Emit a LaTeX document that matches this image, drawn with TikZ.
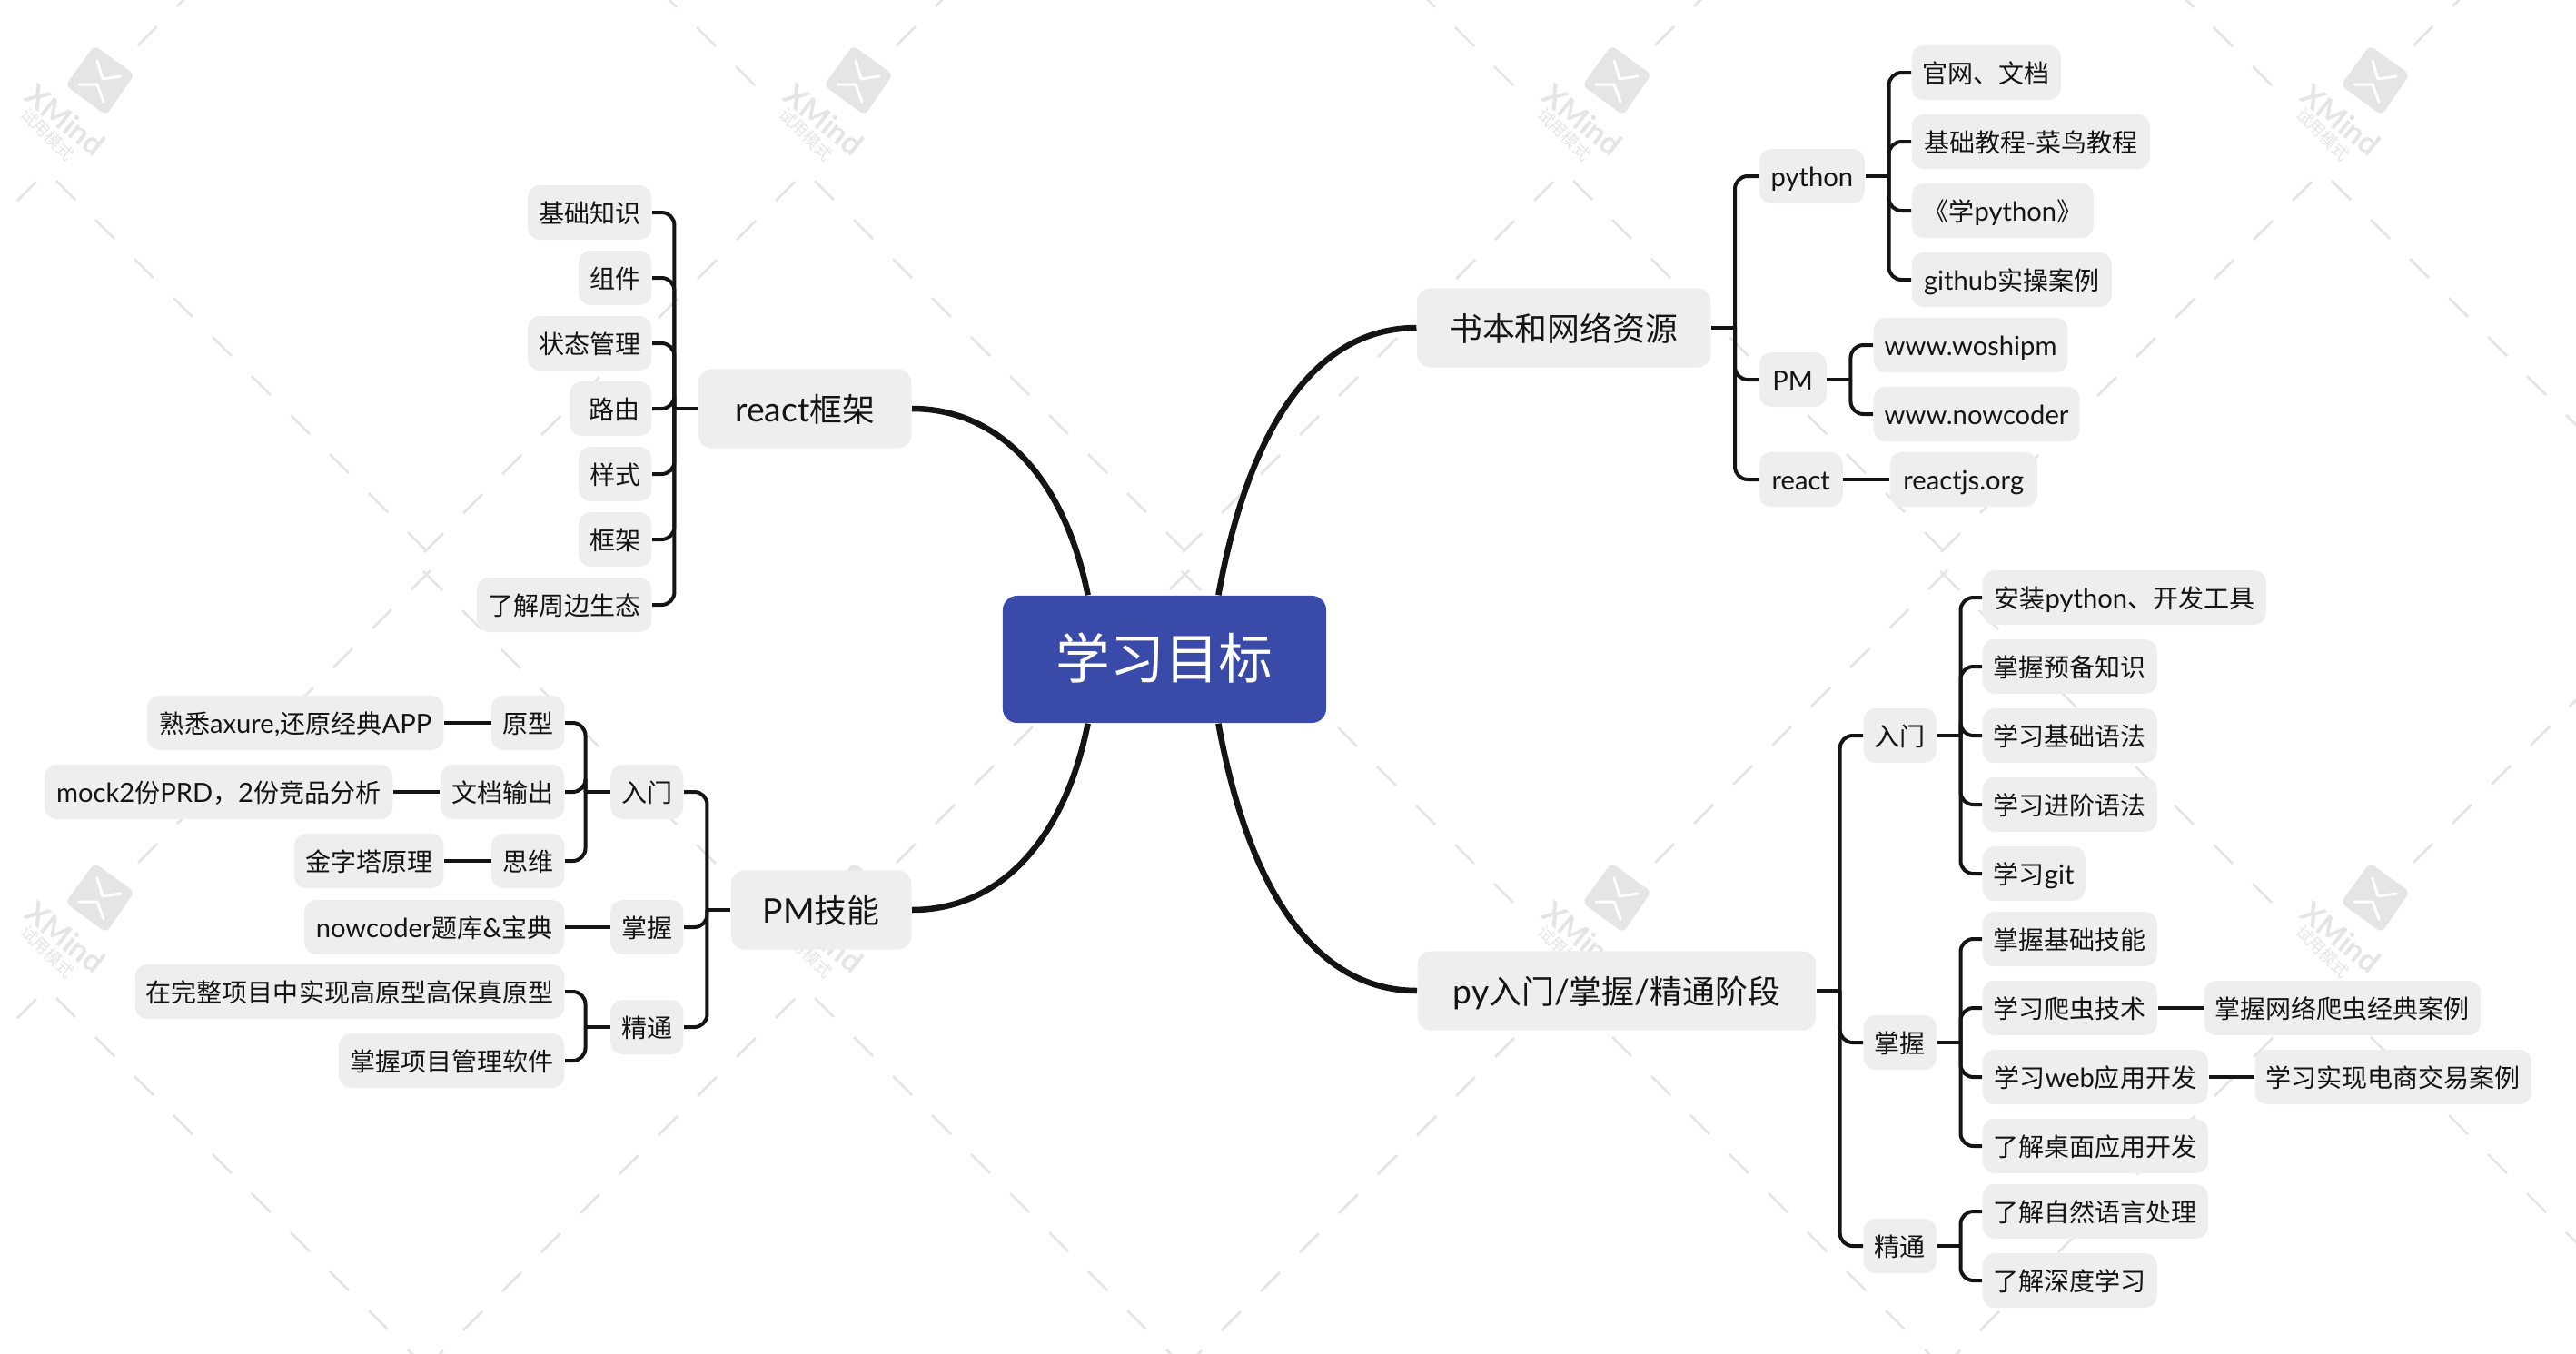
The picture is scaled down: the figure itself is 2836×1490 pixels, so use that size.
\documentclass[tikz,border=0pt]{standalone}
\usepackage{fontspec}
\setmainfont{Noto Sans CJK SC}
\newfontfamily\lat[Scale=1.04]{Lato}
\definecolor{rootblue}{HTML}{3A4AA9}
\definecolor{boxgrey}{HTML}{EEEEEE}
\definecolor{linedark}{HTML}{141414}
\definecolor{wmgrey}{HTML}{E5E5E5}
\tikzset{
  rootbox/.style={fill=rootblue, text=white, rounded corners=0.16cm, minimum width=3.56cm, minimum height=1.4cm, inner sep=0pt, text height=0.53cm, text depth=0.11cm, font=\fontsize{17}{20}\selectfont},
  topic/.style={fill=boxgrey, text=linedark, rounded corners=0.14cm, minimum height=0.87cm, inner xsep=0.36cm, inner ysep=0pt, text height=0.36cm, text depth=0.08cm, font=\fontsize{10.2}{12}\selectfont},
  leaf/.style={fill=boxgrey, text=linedark, rounded corners=0.13cm, minimum height=0.6cm, inner xsep=0.12cm, inner ysep=0pt, text height=0.285cm, text depth=0.05cm, font=\fontsize{7.97}{10}\selectfont},
  maincurve/.style={draw=linedark, line width=0.065cm},
  branch/.style={draw=linedark, line width=0.04cm, rounded corners=0.14cm},
  wmline/.style={draw=wmgrey, line width=0.028cm},
  wmark/.pic={
    \fill[wmgrey, rounded corners=0.06cm] (-6,-38) -- (38,-6) -- (7,39) -- (-38,6) -- cycle;
    \draw[white, line width=0.03cm, line cap=round, line join=round] (-3,-21) -- (3,-1) -- (23,-4);
    \draw[white, line width=0.03cm, line cap=round, line join=round] (-23,5) -- (-3,5) -- (4,24);
    \node[text=wmgrey, rotate=-39, font=\lat\bfseries\fontsize{9.2}{12}\selectfont] (wmname) at (-38,44) {XMind};
    \node[text=wmgrey, rotate=-45, font=\fontsize{5.2}{6}\selectfont] (wmnote) at (-58,60) {试用模式};
    \foreach \n in {0,...,8} \draw[wmline] ({-114-43*\n},{6-43*\n}) -- ++(-21,-21);
    \foreach \n in {0,...,9} \draw[wmline] ({-48+43*\n},{111+43*\n}) -- ++(21,21);
    \foreach \n in {0,...,7} \draw[wmline] ({42+43*\n},{-38-43*\n}) -- ++(21,-21);
    \foreach \n in {0,...,9} \draw[wmline] ({-70-43*\n},{112+43*\n}) -- ++(-21,21);
  }
}
\begin{document}
\begin{tikzpicture}[x=0.01cm, y=-0.01cm]
\useasboundingbox (0,0) rectangle (2836,1490);

% watermark
\foreach \lx in {-725,110,945,1780,2615,3450}
  \foreach \ly in {88,988}
    \pic at (\lx,\ly) {wmark};

\node[rootbox] (root) at (1282,726) {学习目标};

% right top
\node[topic, anchor=east] (book) at (1884,361) {书本和网络资源};
\node[leaf, anchor=west, minimum width=1.16cm] (bpy) at (1936,194) {{\lat python}};
\node[leaf, anchor=west, minimum width=0.74cm] (bpm) at (1936,418) {{\lat PM}};
\node[leaf, anchor=west, minimum width=0.92cm] (brc) at (1936,528) {{\lat react}};
\node[leaf, anchor=west, minimum width=1.64cm] (bpy1) at (2104,80) {官网、文档};
\node[leaf, anchor=west, minimum width=2.62cm] (bpy2) at (2104,156) {基础教程{\lat -}菜鸟教程};
\node[leaf, anchor=west, minimum width=2cm] (bpy3) at (2104,232) {《学{\lat python}》};
\node[leaf, anchor=west, minimum width=2.2cm] (bpy4) at (2104,308) {{\lat github}实操案例};
\node[leaf, anchor=west, minimum width=2.12cm] (bpm1) at (2062,380) {{\lat www.woshipm}};
\node[leaf, anchor=west, minimum width=2.26cm] (bpm2) at (2062,456) {{\lat www.nowcoder}};
\node[leaf, anchor=west, minimum width=1.62cm] (brc1) at (2080,528) {{\lat reactjs.org}};

% right bottom
\node[topic, anchor=west, minimum width=4.38cm] (stage) at (1560,1091) {{\lat py}入门{\lat /}掌握{\lat /}精通阶段};
\node[leaf, anchor=west] (s1) at (2051,810) {入门};
\node[leaf, anchor=west] (s2) at (2051,1148) {掌握};
\node[leaf, anchor=west] (s3) at (2051,1372) {精通};
\node[leaf, anchor=west, minimum width=3.12cm] (s11) at (2182,658) {安装{\lat python}、开发工具};
\node[leaf, anchor=west] (s12) at (2182,734) {掌握预备知识};
\node[leaf, anchor=west] (s13) at (2182,810) {学习基础语法};
\node[leaf, anchor=west] (s14) at (2182,886) {学习进阶语法};
\node[leaf, anchor=west, minimum width=1.13cm] (s15) at (2182,962) {学习{\lat git}};
\node[leaf, anchor=west] (s21) at (2182,1034) {掌握基础技能};
\node[leaf, anchor=west] (s22) at (2182,1110) {学习爬虫技术};
\node[leaf, anchor=west, minimum width=2.48cm] (s23) at (2182,1186) {学习{\lat web}应用开发};
\node[leaf, anchor=west] (s24) at (2182,1262) {了解桌面应用开发};
\node[leaf, anchor=west] (s31) at (2182,1334) {了解自然语言处理};
\node[leaf, anchor=west] (s32) at (2182,1410) {了解深度学习};
\node[leaf, anchor=west] (s221) at (2426,1110) {掌握网络爬虫经典案例};
\node[leaf, anchor=west] (s231) at (2482,1186) {学习实现电商交易案例};

% left top
\node[topic, anchor=east, minimum width=2.34cm] (react) at (1004,450) {{\lat react}框架};
\node[leaf, anchor=east] (r1) at (718,234) {基础知识};
\node[leaf, anchor=east] (r2) at (718,306) {组件};
\node[leaf, anchor=east] (r3) at (718,378) {状态管理};
\node[leaf, anchor=east, minimum width=0.9cm] (r4) at (718,450) {\hspace{0.08cm}路由};
\node[leaf, anchor=east] (r5) at (718,522) {样式};
\node[leaf, anchor=east] (r6) at (718,594) {框架};
\node[leaf, anchor=east] (r7) at (718,666) {了解周边生态};

% left bottom
\node[topic, anchor=east, minimum width=1.98cm, inner xsep=0.3cm] (pm) at (1004,1002) {{\lat PM}技能};
\node[leaf, anchor=east] (p1) at (753,872) {入门};
\node[leaf, anchor=east] (p2) at (753,1021) {掌握};
\node[leaf, anchor=east] (p3) at (753,1131) {精通};
\node[leaf, anchor=east] (p11) at (622,796) {原型};
\node[leaf, anchor=east] (p12) at (622,872) {文档输出};
\node[leaf, anchor=east] (p13) at (622,948) {思维};
\node[leaf, anchor=east, minimum width=3.26cm] (p111) at (489,796) {熟悉{\lat axure,}还原经典{\lat APP}};
\node[leaf, anchor=east, minimum width=3.83cm] (p121) at (433,872) {{\lat mock2}份{\lat PRD}，{\lat 2}份竞品分析};
\node[leaf, anchor=east] (p131) at (489,948) {金字塔原理};
\node[leaf, anchor=east, minimum width=2.86cm] (p21) at (622,1021) {{\lat nowcoder}题库{\lat \&}宝典};
\node[leaf, anchor=east] (p31) at (622,1092) {在完整项目中实现高原型高保真原型};
\node[leaf, anchor=east] (p32) at (622,1168) {掌握项目管理软件};

% root curves
\draw[maincurve] (root.50) .. controls +(30,-166) and +(-121,0) .. (book.west);
\draw[maincurve] (root.310) .. controls +(30,166) and +(-121,0) .. (stage.west);
\draw[maincurve] (root.140) .. controls +(-26,-130) and +(95,0) .. (react.east);
\draw[maincurve] (root.220) .. controls +(-26,130) and +(95,0) .. (pm.east);

% stubs and trunks
\draw[branch] (book.east) -- ++(26,0) coordinate (bt);
\foreach \c in {bpy,bpm,brc} \draw[branch] (bt) |- (\c.west);
\draw[branch] (bpy.east) -- ++(26,0) coordinate (bpyt);
\foreach \c in {bpy1,bpy2,bpy3,bpy4} \draw[branch] (bpyt) |- (\c.west);
\draw[branch] (bpm.east) -- ++(26,0) coordinate (bpmt);
\foreach \c in {bpm1,bpm2} \draw[branch] (bpmt) |- (\c.west);
\draw[branch] (brc.east) -- (brc1.west);

\draw[branch] (stage.east) -- ++(26,0) coordinate (st);
\foreach \c in {s1,s2,s3} \draw[branch] (st) |- (\c.west);
\draw[branch] (s1.east) -- ++(26,0) coordinate (s1t);
\foreach \c in {s11,s12,s13,s14,s15} \draw[branch] (s1t) |- (\c.west);
\draw[branch] (s2.east) -- ++(26,0) coordinate (s2t);
\foreach \c in {s21,s22,s23,s24} \draw[branch] (s2t) |- (\c.west);
\draw[branch] (s3.east) -- ++(26,0) coordinate (s3t);
\foreach \c in {s31,s32} \draw[branch] (s3t) |- (\c.west);
\draw[branch] (s22.east) -- (s221.west);
\draw[branch] (s23.east) -- (s231.west);

\draw[branch] (react.west) -- ++(-26,0) coordinate (rt);
\foreach \c in {r1,r2,r3,r4,r5,r6,r7} \draw[branch] (rt) |- (\c.east);

\draw[branch] (pm.west) -- ++(-26,0) coordinate (pt);
\foreach \c in {p1,p2,p3} \draw[branch] (pt) |- (\c.east);
\draw[branch] (p1.west) -- ++(-27,0) coordinate (p1t);
\foreach \c in {p11,p12,p13} \draw[branch] (p1t) |- (\c.east);
\draw[branch] (p3.west) -- ++(-27,0) coordinate (p3t);
\foreach \c in {p31,p32} \draw[branch] (p3t) |- (\c.east);
\draw[branch] (p11.west) -- (p111.east);
\draw[branch] (p12.west) -- (p121.east);
\draw[branch] (p13.west) -- (p131.east);
\draw[branch] (p2.west) -- (p21.east);
\end{tikzpicture}
\end{document}
